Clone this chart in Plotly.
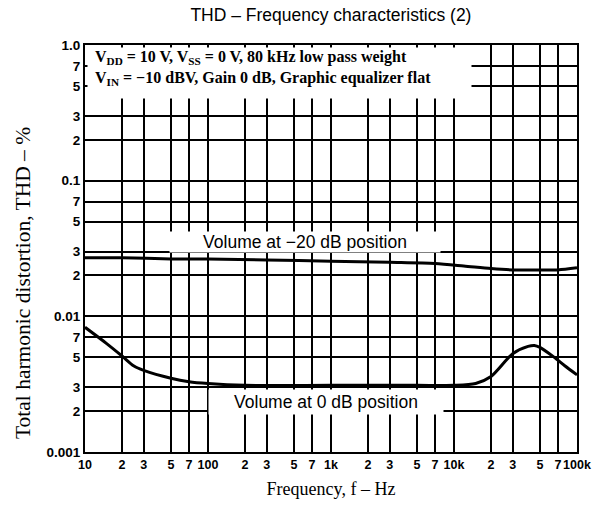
import plotly.graph_objects as go

# ---- data ----
freq_m20 = [10, 20, 50, 100, 300, 1000, 3000, 7000, 12000, 20000, 30000, 50000, 70000, 100000]
thd_m20 = [0.027, 0.027, 0.0265, 0.0265, 0.026, 0.0255, 0.025, 0.0245, 0.0235, 0.0225, 0.022, 0.022, 0.022, 0.0228]

freq_0 = [10, 15, 20, 25, 30, 50, 70, 100, 200, 1000, 5000, 10000, 15000, 20000,
          30000, 40000, 45000, 50000, 65000, 80000, 100000]
thd_0 = [0.0083, 0.0063, 0.0051, 0.0043, 0.0040, 0.0035, 0.0033, 0.0032, 0.0031, 0.0031,
         0.0031, 0.0031, 0.0032, 0.0036, 0.0053, 0.0060, 0.0061, 0.0059, 0.0050, 0.0043, 0.0037]

x_tickvals = [10, 20, 30, 50, 70, 100, 200, 300, 500, 700, 1000, 2000, 3000, 5000, 7000,
              10000, 20000, 30000, 50000, 70000, 100000]
x_ticktext = ["10", "2", "3", "5", "7", "100", "2", "3", "5", "7", "1k", "2", "3", "5", "7",
              "10k", "2", "3", "5", "7", "100k"]
y_tickvals = [0.001, 0.002, 0.003, 0.005, 0.007, 0.01, 0.02, 0.03, 0.05, 0.07,
              0.1, 0.2, 0.3, 0.5, 0.7, 1.0]
y_ticktext = ["0.001", "2", "3", "5", "7", "0.01", "2", "3", "5", "7",
              "0.1", "2", "3", "5", "7", "1.0"]

title_text = "THD – Frequency characteristics (2)"
x_title = "Frequency, f – Hz"
y_title = "Total harmonic distortion, THD – %"
cond_line1 = "V<sub>DD</sub> = 10 V, V<sub>SS</sub> = 0 V, 80 kHz low pass weight"
cond_line2 = "V<sub>IN</sub> = −10 dBV, Gain 0 dB, Graphic equalizer flat"
label_m20 = "Volume at −20 dB position"
label_0 = "Volume at 0 dB position"

SANS = "Liberation Sans, Arial, sans-serif"
SERIF = "Liberation Serif, Times New Roman, serif"

fig = go.Figure()
fig.add_trace(go.Scatter(x=freq_m20, y=thd_m20, mode="lines",
                         line=dict(color="black", width=3, shape="spline", smoothing=0.8),
                         showlegend=False, hoverinfo="skip"))
fig.add_trace(go.Scatter(x=freq_0, y=thd_0, mode="lines",
                         line=dict(color="black", width=3, shape="spline", smoothing=0.8),
                         showlegend=False, hoverinfo="skip"))

fig.update_xaxes(type="log", range=[1, 5], tickvals=x_tickvals, ticktext=x_ticktext,
                 tickangle=0,
                 showgrid=True, gridcolor="black", gridwidth=1.5,
                 showline=True, linecolor="black", linewidth=2, mirror=True,
                 ticks="", zeroline=False,
                 tickfont=dict(family=SANS, size=12.5, color="black", weight="bold"),
                 title=dict(text=x_title, font=dict(family=SERIF, size=18, color="black"),
                            standoff=11))
fig.update_yaxes(type="log", range=[-3, 0], tickvals=y_tickvals, ticktext=y_ticktext,
                 showgrid=True, gridcolor="black", gridwidth=1.5,
                 showline=True, linecolor="black", linewidth=2, mirror=True,
                 ticks="", zeroline=False,
                 tickfont=dict(family=SANS, size=13.5, color="black", weight="bold"))

# y-axis title placed as rotated text (centred lower than the plot middle, as in the reference)
fig.add_annotation(xref="paper", yref="paper", x=0, y=0.415, xshift=-62,
                   xanchor="center", yanchor="middle", textangle=-90,
                   text=y_title, showarrow=False,
                   font=dict(family=SERIF, size=21.5, color="black"))

# white condition box and its two text lines
fig.add_annotation(xref="paper", yref="paper", x=0, y=1, xanchor="left", yanchor="top",
                   xshift=2, yshift=-2, width=383, height=50, borderpad=0,
                   text=" ", showarrow=False, bgcolor="white")
fig.add_annotation(xref="paper", yref="paper", x=0, y=1, xanchor="left", yanchor="middle",
                   xshift=8, yshift=-12, text=cond_line1, showarrow=False, align="left",
                   font=dict(family=SERIF, size=16, color="black", weight="bold"))
fig.add_annotation(xref="paper", yref="paper", x=0, y=1, xanchor="left", yanchor="middle",
                   xshift=8, yshift=-33.5, text=cond_line2, showarrow=False, align="left",
                   font=dict(family=SERIF, size=16, color="black", weight="bold"))

fig.add_annotation(x=2.79, y=-1.455, xref="x", yref="y", text=label_m20, showarrow=False,
                   bgcolor="white", width=268, height=18, borderpad=1,
                   font=dict(family=SANS, size=17.5, color="black"))
fig.add_annotation(x=2.96, y=-2.63, xref="x", yref="y", text=label_0, showarrow=False,
                   bgcolor="white", width=232, height=22, borderpad=1,
                   font=dict(family=SANS, size=17.5, color="black"))

fig.update_layout(
    width=605, height=517,
    margin=dict(l=85, r=28, t=45, b=65),
    paper_bgcolor="white", plot_bgcolor="white",
    title=dict(text=title_text, x=0.547, xanchor="center", y=0.971, yanchor="middle",
               font=dict(family=SANS, size=17.5, color="black")),
)

fig.write_html("out.html", config={"displayModeBar": False},
               post_script="document.body.style.margin='0';document.body.style.padding='0';")
